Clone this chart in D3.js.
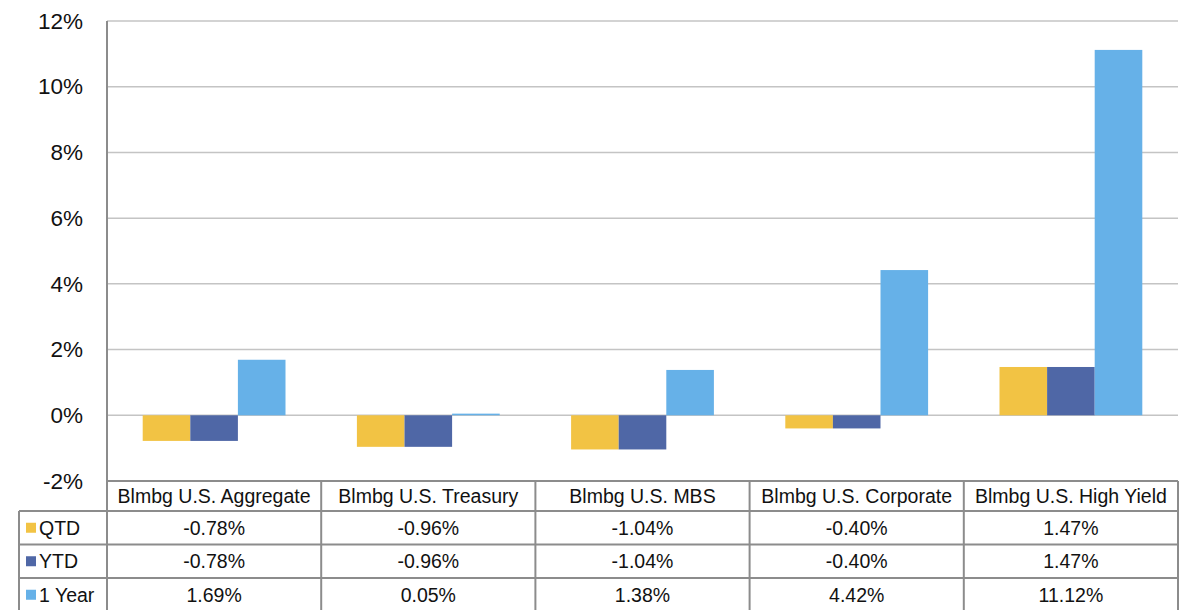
<!DOCTYPE html>
<html><head><meta charset="utf-8">
<script src="https://cdn.jsdelivr.net/npm/d3@7"></script>
<style>
html,body{margin:0;padding:0;background:#fff;}
svg{display:block;font-family:"Liberation Sans",Arial,sans-serif;}
</style></head>
<body>
<svg id="chart" width="1192" height="610"></svg>
<script>
const categories = ["Blmbg U.S. Aggregate","Blmbg U.S. Treasury","Blmbg U.S. MBS","Blmbg U.S. Corporate","Blmbg U.S. High Yield"];
const seriesNames = ["QTD","YTD","1 Year"];
const qtdValues = [-0.78,-0.96,-1.04,-0.40,1.47];
const ytdValues = [-0.78,-0.96,-1.04,-0.40,1.47];
const oneYearValues = [1.69,0.05,1.38,4.42,11.12];
const yTicks = [-2,0,2,4,6,8,10,12];
const colors = ["#F2C344","#4F67A6","#66B1E8"];

const seriesValues = [qtdValues, ytdValues, oneYearValues];
const svg = d3.select("#chart");
const plotLeft = 107, plotRight = 1178, plotTop = 21, plotBottom = 481;
const legendLeft = 19;
const headerBottom = 511, rowH = 33.5;
const tableFont = 19.5;

const y = d3.scaleLinear().domain([-2,12]).range([plotBottom, plotTop]);
const x0 = d3.scaleBand().domain(categories).range([plotLeft, plotRight]).padding(0);
const x1 = d3.scaleBand().domain(seriesNames).range([0, x0.bandwidth()]).paddingInner(0).paddingOuter(0.75);

// gridlines
svg.append("g").selectAll("line").data(yTicks).join("line")
  .attr("x1", plotLeft).attr("x2", plotRight)
  .attr("y1", d => y(d)).attr("y2", d => y(d))
  .attr("stroke", "#c4c4c4").attr("stroke-width", 1.5);

// y axis labels
const yAxis = d3.axisLeft(y).tickValues(yTicks).tickFormat(d => d + "%").tickSize(0).tickPadding(24);
const ga = svg.append("g").attr("transform", `translate(${plotLeft},0)`).call(yAxis);
ga.select(".domain").remove();
ga.selectAll("text").attr("font-size", 22.5).attr("fill", "#111").attr("font-family", "Liberation Sans, Arial, sans-serif");

// bars
const barData = [];
categories.forEach((c, i) => seriesNames.forEach((s, j) => barData.push({c, s, v: seriesValues[j][i], j})));
svg.append("g").selectAll("rect").data(barData).join("rect")
  .attr("x", d => x0(d.c) + x1(d.s))
  .attr("width", x1.bandwidth())
  .attr("y", d => y(Math.max(0, d.v)))
  .attr("height", d => Math.abs(y(d.v) - y(0)))
  .attr("fill", d => colors[d.j]);

// vertical axis line
svg.append("line").attr("x1", plotLeft).attr("x2", plotLeft).attr("y1", plotTop).attr("y2", 612)
  .attr("stroke", "#8c8c8c").attr("stroke-width", 2);

// table
const tb = svg.append("g");
const border = "#8c8c8c";
tb.append("line").attr("x1", plotLeft).attr("x2", plotRight).attr("y1", plotBottom).attr("y2", plotBottom).attr("stroke", border).attr("stroke-width", 2);
[0,1,2,3].forEach(k => {
  const yy = headerBottom + k * rowH;
  tb.append("line").attr("x1", legendLeft).attr("x2", plotRight).attr("y1", yy).attr("y2", yy).attr("stroke", border).attr("stroke-width", 2);
});
tb.append("line").attr("x1", legendLeft).attr("x2", legendLeft).attr("y1", headerBottom).attr("y2", 612).attr("stroke", border).attr("stroke-width", 2);
categories.forEach(c => {
  const xx = x0(c) + x0.bandwidth();
  tb.append("line").attr("x1", xx).attr("x2", xx).attr("y1", plotBottom).attr("y2", 612).attr("stroke", border).attr("stroke-width", 2);
});
tb.selectAll("text.hdr").data(categories).join("text").attr("class","hdr")
  .attr("x", d => x0(d) + x0.bandwidth()/2).attr("y", (plotBottom + headerBottom)/2)
  .attr("text-anchor","middle").attr("dominant-baseline","central")
  .attr("font-size", tableFont).attr("fill","#111").text(d => d);
seriesNames.forEach((s, j) => {
  const cy = headerBottom + j * rowH + rowH/2;
  tb.append("rect").attr("x", 26).attr("y", cy - 5).attr("width", 10).attr("height", 10).attr("fill", colors[j]);
  tb.append("text").attr("x", 39).attr("y", cy).attr("dominant-baseline","central")
    .attr("font-size", tableFont).attr("fill","#111").text(s);
  tb.selectAll(null).data(categories).join("text")
    .attr("x", d => x0(d) + x0.bandwidth()/2).attr("y", cy)
    .attr("text-anchor","middle").attr("dominant-baseline","central")
    .attr("font-size", tableFont).attr("fill","#111")
    .text((d, i) => seriesValues[j][i].toFixed(2) + "%");
});
</script>
</body></html>
